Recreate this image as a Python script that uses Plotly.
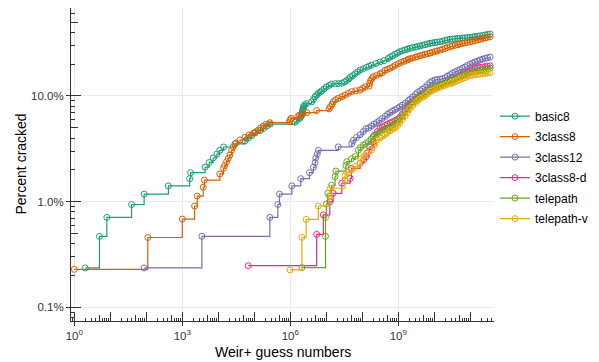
import plotly.graph_objects as go

# ---------------- data ----------------
series_names = ["basic8", "3class8", "3class12", "3class8-d", "telepath", "telepath-v"]
series_colors = ["#1B9E77", "#D95F02", "#7570B3", "#E7298A", "#66A61E", "#E6AB02"]

basic8_guesses = [2, 5, 8, 39, 87, 410, 1600, 1700, 4300, 5600, 7200, 9100, 1.1e4, 1.4e4, 2.9e4,
                  5.5e4, 6.8e4, 8.5e4, 1.05e5, 1.45e5, 1.8e5, 2.2e5, 2.75e5, 1.35e6, 1.5e6, 1.85e6,
                  1.95e6, 2.1e6, 2.1e6, 2.2e6, 2.2e6, 2.25e6, 2.3e6, 2.35e6, 2.55e6, 2.8e6, 3.9e6,
                  4.4e6, 4.9e6, 5.4e6, 6.0e6, 6.8e6, 7.4e6, 8.7e6, 1.0e7, 1.2e7, 1.4e7, 1.8e7, 2.2e7,
                  2.7e7, 3.2e7, 3.7e7, 4.2e7, 4.6e7, 5.4e7, 6.3e7, 7.4e7, 8.7e7, 1.07e8, 1.3e8,
                  1.55e8, 1.8e8, 2.4e8, 3.1e8, 4.0e8, 5.2e8, 5.9e8, 6.9e8, 8.1e8, 9.5e8, 1.1e9,
                  1.3e9, 1.55e9, 1.8e9, 2.1e9, 2.5e9, 3.0e9, 3.4e9, 4.0e9, 4.7e9, 5.5e9, 6.5e9,
                  7.6e9, 8.9e9, 1.05e10, 1.2e10, 1.45e10, 1.7e10, 2.0e10, 2.3e10, 2.75e10, 3.2e10,
                  3.8e10, 4.5e10, 5.1e10, 6.0e10, 7.1e10, 8.3e10, 9.8e10, 1.15e11, 1.35e11, 1.6e11,
                  1.85e11, 2.2e11, 2.6e11, 3.0e11, 3.55e11]
basic8_pct = [0.236, 0.47, 0.71, 0.94, 1.18, 1.41, 1.65, 1.88, 2.12, 2.35, 2.59, 2.82, 3.06, 3.29,
              3.52, 3.76, 4.0, 4.23, 4.47, 4.7, 4.94, 5.18, 5.41, 5.65, 5.88, 6.12, 6.35, 6.59,
              6.82, 7.06, 7.29, 7.53, 7.76, 8.0, 8.24, 8.47, 8.8, 9.3, 9.85, 10.2, 10.6, 10.9,
              11.2, 11.7, 12.2, 12.6, 13.0, 13.1, 13.1, 13.2, 13.6, 14.0, 14.5, 15.0, 15.6, 16.2,
              16.9, 17.6, 18.1, 18.7, 19.1, 19.6, 20.3, 21.0, 21.6, 22.6, 23.3, 24.0, 24.8, 25.5,
              26.3, 26.8, 27.3, 27.8, 28.3, 28.7, 29.0, 29.4, 29.7, 30.2, 30.6, 31.1, 31.5, 31.8,
              32.1, 32.4, 32.6, 33.1, 33.5, 34.0, 34.4, 34.6, 34.8, 35.0, 35.1, 35.3, 35.5, 35.7,
              35.9, 36.2, 36.5, 36.7, 37.0, 37.4, 37.8, 38.2, 38.6]

class3_8_guesses = [1, 110, 1000, 2200, 2600, 3800, 4100, 1.1e4, 1.4e4, 1.5e4, 1.7e4, 1.9e4,
                    2.1e4, 2.35e4, 2.6e4, 3.1e4, 4.0e4, 5.5e4, 7.1e4, 9.4e4, 1.1e5, 1.3e5, 1.5e5,
                    1.8e5, 2.1e5, 2.7e5, 9.5e5, 1.0e6, 1.05e6, 1.6e6, 1.8e6, 2.2e6, 2.85e6, 5.4e6,
                    1.2e7, 1.3e7, 1.45e7, 1.56e7, 1.8e7, 2.15e7, 2.7e7, 3.3e7, 4.1e7, 5.1e7, 6.6e7,
                    8.7e7, 1.02e8, 1.2e8, 1.55e8, 1.6e8, 1.7e8, 1.85e8, 2.0e8, 2.5e8, 3.1e8, 3.6e8,
                    4.3e8, 5.0e8, 5.9e8, 7.1e8, 8.3e8, 1.0e9, 1.2e9, 1.45e9, 1.7e9, 1.9e9, 2.1e9,
                    2.5e9, 3.0e9, 3.4e9, 4.0e9, 4.7e9, 5.5e9, 6.5e9, 7.6e9, 8.9e9, 1.05e10, 1.2e10,
                    1.45e10, 1.7e10, 2.0e10, 2.3e10, 2.75e10, 3.2e10, 3.8e10, 4.5e10, 5.1e10,
                    6.0e10, 7.1e10, 8.3e10, 9.8e10, 1.15e11, 1.35e11, 1.6e11, 1.85e11, 2.2e11,
                    2.6e11, 3.0e11, 3.55e11]
class3_8_pct = [0.229, 0.458, 0.685, 0.91, 1.13, 1.37, 1.6, 1.83, 2.07, 2.2, 2.39, 2.58, 2.77,
                3.08, 3.31, 3.59, 3.84, 4.07, 4.28, 4.44, 4.6, 4.77, 5.0, 5.2, 5.42, 5.59, 5.71,
                5.95, 6.15, 6.37, 6.6, 6.8, 6.96, 7.28, 7.55, 7.92, 8.35, 8.83, 9.2, 9.5, 9.85,
                10.2, 10.6, 11.0, 11.2, 11.4, 11.8, 12.2, 12.4, 13.2, 14.0, 14.6, 15.2, 15.7,
                16.2, 16.6, 17.5, 17.9, 18.3, 18.9, 19.5, 20.2, 20.8, 21.3, 21.8, 22.2, 22.5,
                22.9, 23.3, 23.6, 24.0, 24.4, 24.8, 25.1, 25.5, 25.9, 26.3, 26.7, 27.2, 27.7,
                28.2, 28.8, 29.3, 29.7, 30.2, 30.6, 31.0, 31.4, 31.8, 32.2, 32.6, 33.0, 33.5,
                33.9, 34.4, 34.9, 35.4, 35.9, 36.4]

class3_12_guesses = [87, 3500, 2.7e5, 4.5e5, 5.0e5, 1.1e6, 1.95e6, 3.4e6, 4.4e6, 4.9e6, 5.1e6,
                     5.6e6, 6.0e6, 2.15e7, 5.1e7, 5.6e7, 6.9e7, 8.7e7, 1.07e8, 1.25e8, 1.5e8,
                     1.8e8, 2.1e8, 2.5e8, 2.95e8, 3.5e8, 4.3e8, 5.0e8, 5.9e8, 6.9e8, 8.1e8, 9.5e8,
                     1.1e9, 1.3e9, 1.55e9, 1.9e9, 2.1e9, 2.5e9, 3.0e9, 3.4e9, 4.0e9, 4.7e9, 5.5e9,
                     6.5e9, 7.6e9, 8.9e9, 1.05e10, 1.2e10, 1.45e10, 1.7e10, 2.0e10, 2.3e10, 2.75e10,
                     3.2e10, 3.8e10, 4.5e10, 5.1e10, 6.0e10, 7.1e10, 8.3e10, 9.8e10, 1.15e11,
                     1.35e11, 1.6e11, 1.85e11, 2.2e11, 2.6e11, 3.0e11, 3.55e11]
class3_12_pct = [0.236, 0.47, 0.71, 0.94, 1.18, 1.41, 1.65, 1.88, 2.12, 2.35, 2.59, 2.83, 3.06,
                 3.3, 3.55, 3.8, 4.05, 4.3, 4.6, 4.9, 5.0, 5.2, 5.4, 5.6, 5.85, 6.1, 6.4, 6.7,
                 6.95, 7.2, 7.4, 7.65, 7.9, 8.2, 8.5, 9.0, 9.3, 9.8, 10.3, 10.8, 11.2, 11.6, 12.1,
                 12.8, 13.4, 13.9, 14.2, 14.3, 14.4, 14.6, 14.9, 15.4, 15.9, 16.5, 17.0, 17.4,
                 17.8, 18.3, 18.8, 19.4, 20.0, 20.5, 21.0, 21.4, 21.9, 22.3, 22.7, 23.0, 23.4]

class3_8d_guesses = [6.8e4, 5.4e6, 8.3e6, 1.25e7, 1.55e7, 2.7e7, 4.6e7, 5.0e7, 8.7e7, 1.1e8,
                     1.3e8, 1.5e8, 1.6e8, 2.0e8, 2.2e8, 2.6e8, 3.1e8, 3.6e8, 4.3e8, 5.0e8, 5.9e8,
                     6.9e8, 8.1e8, 9.5e8, 1.1e9, 1.3e9, 1.55e9, 1.8e9, 2.1e9, 2.5e9, 3.0e9, 3.4e9,
                     4.0e9, 4.7e9, 5.5e9, 6.5e9, 7.6e9, 8.9e9, 1.05e10, 1.2e10, 1.45e10, 1.7e10,
                     2.0e10, 2.3e10, 2.75e10, 3.2e10, 3.8e10, 4.5e10, 5.1e10, 6.0e10, 7.1e10,
                     8.3e10, 9.8e10, 1.15e11, 1.35e11, 1.6e11, 1.85e11, 2.2e11, 2.6e11, 3.0e11,
                     3.55e11]
class3_8d_pct = [0.248, 0.49, 0.75, 1.0, 1.2, 1.5, 1.66, 2.07, 2.31, 2.5, 2.67, 3.0, 3.31, 3.7,
                 4.28, 4.6, 4.94, 5.1, 5.25, 5.4, 5.55, 5.7, 5.85, 6.0, 6.3, 6.8, 7.3, 7.8, 8.3,
                 8.8, 9.2, 9.5, 9.8, 10.1, 10.4, 10.9, 11.4, 11.7, 12.0, 12.3, 12.6, 12.9, 13.2,
                 13.5, 13.8, 14.2, 14.6, 15.0, 15.4, 15.8, 16.3, 16.8, 17.3, 17.7, 18.1, 18.4,
                 18.6, 18.8, 19.0, 19.1, 19.3]

telepath_guesses = [2.1e6, 9.5e6, 9.5e6, 1.0e7, 1.1e7, 1.4e7, 1.75e7, 1.85e7, 3.5e7, 3.7e7,
                    5.0e7, 6.3e7, 7.8e7, 8.9e7, 1.07e8, 1.25e8, 1.5e8, 1.75e8, 2.0e8, 2.5e8,
                    3.1e8, 3.6e8, 4.3e8, 5.0e8, 5.9e8, 6.9e8, 8.1e8, 9.5e8, 1.1e9, 1.3e9, 1.55e9,
                    1.8e9, 2.1e9, 2.5e9, 3.0e9, 3.4e9, 4.0e9, 4.7e9, 5.5e9, 6.5e9, 7.6e9, 8.9e9,
                    1.05e10, 1.2e10, 1.45e10, 1.7e10, 2.0e10, 2.3e10, 2.75e10, 3.2e10, 3.8e10,
                    4.5e10, 5.1e10, 6.0e10, 7.1e10, 8.3e10, 9.8e10, 1.15e11, 1.35e11, 1.6e11,
                    1.85e11, 2.2e11, 2.6e11, 3.0e11, 3.55e11]
telepath_pct = [0.238, 0.47, 0.71, 0.95, 1.2, 1.43, 1.73, 1.95, 2.2, 2.39, 2.55, 2.67, 3.08,
                3.25, 3.44, 3.55, 3.7, 3.9, 4.12, 4.35, 4.6, 4.75, 4.85, 4.95, 5.1, 5.3, 5.5,
                5.8, 6.1, 6.6, 7.1, 7.6, 8.2, 8.7, 9.2, 9.6, 9.9, 10.2, 10.5, 11.0, 11.5, 11.8,
                12.1, 12.4, 12.7, 13.0, 13.2, 13.5, 13.8, 14.1, 14.5, 14.9, 15.3, 15.6, 15.9,
                16.3, 16.6, 16.9, 17.1, 17.4, 17.6, 17.8, 18.0, 18.2, 18.4]

telepath_v_guesses = [9.8e5, 2.1e6, 2.75e6, 6.0e6, 1.2e7, 1.3e7, 3.3e7, 3.3e7, 3.7e7, 5.0e7,
                      6.3e7, 8.7e7, 9.5e7, 1.1e8, 1.3e8, 1.8e8, 2.2e8, 2.5e8, 3.1e8, 3.6e8,
                      4.3e8, 5.0e8, 5.9e8, 6.9e8, 8.1e8, 9.5e8, 1.1e9, 1.3e9, 1.55e9, 1.8e9,
                      2.1e9, 2.5e9, 3.0e9, 3.4e9, 4.0e9, 4.7e9, 5.5e9, 6.5e9, 7.6e9, 8.9e9,
                      1.05e10, 1.2e10, 1.45e10, 1.7e10, 2.0e10, 2.3e10, 2.75e10, 3.2e10, 3.8e10,
                      4.5e10, 5.1e10, 6.0e10, 7.1e10, 8.3e10, 9.8e10, 1.15e11, 1.35e11, 1.6e11,
                      1.85e11, 2.2e11, 2.6e11, 3.0e11, 3.55e11]
telepath_v_pct = [0.226, 0.46, 0.68, 0.91, 1.13, 1.34, 1.6, 1.75, 1.9, 2.0, 2.15, 2.31, 2.57,
                  2.72, 2.87, 3.08, 3.44, 3.84, 4.0, 4.15, 4.3, 4.5, 4.7, 4.85, 5.0, 5.25, 5.6,
                  6.0, 6.5, 7.0, 7.6, 8.1, 8.6, 9.0, 9.4, 9.7, 10.0, 10.5, 11.0, 11.3, 11.6,
                  11.9, 12.1, 12.4, 12.6, 12.9, 13.1, 13.3, 13.6, 14.0, 14.3, 14.6, 14.9, 15.3,
                  15.6, 15.8, 15.9, 16.1, 16.2, 16.3, 16.4, 16.5, 16.6]

x_tick_vals = [1, 1e3, 1e6, 1e9]
x_tick_text = ["10<sup>0</sup>", "10<sup>3</sup>", "10<sup>6</sup>", "10<sup>9</sup>"]
y_tick_vals = [0.1, 1, 10]
y_tick_text = ["0.1%", "1.0%", "10.0%"]
x_title = "Weir+ guess numbers"
y_title = "Percent cracked"

series_x = [basic8_guesses, class3_8_guesses, class3_12_guesses, class3_8d_guesses,
            telepath_guesses, telepath_v_guesses]
series_y = [basic8_pct, class3_8_pct, class3_12_pct, class3_8d_pct, telepath_pct, telepath_v_pct]

# ---------------- figure ----------------
FONT = "Liberation Sans, Arial, Helvetica, sans-serif"
AX = "#333333"
fig = go.Figure()
for name, col, xs, ys in zip(series_names, series_colors, series_x, series_y):
    n = min(len(xs), len(ys))
    fig.add_trace(go.Scatter(
        x=xs[:n], y=ys[:n], name=name, legendgroup=name,
        mode="lines+markers", line=dict(shape="hv", color=col, width=1.2),
        marker=dict(symbol="circle-open", size=6, color=col, line=dict(width=1, color=col)),
    ))

XR = [-0.092, 11.658]
YR = [-1.129, 1.8326]
decades_x = range(-1, 13)
decades_y = range(-2, 3)
small_x = [d * 10.0 ** k for k in decades_x for d in (2, 3, 4, 6, 7, 8, 9)]
mid_x = [5 * 10.0 ** k for k in decades_x]
big_x = [10.0 ** k for k in decades_x]
small_y = [d * 10.0 ** k for k in decades_y for d in (2, 3, 4, 6, 7, 8, 9)]
mid_y = [5 * 10.0 ** k for k in decades_y]
big_y = [10.0 ** k for k in decades_y]

tickfont = dict(family=FONT, size=11.5, color="#333333")
# page body has an 8px default margin, so the figure is 8px smaller and offset
L, R, T, B = 63, 105, 0, 41
W, H = 591, 354

fig.update_layout(
    width=W, height=H,
    margin=dict(l=L, r=R, t=T, b=B, autoexpand=False),
    paper_bgcolor="white", plot_bgcolor="white",
    font=dict(family=FONT, size=12, color="black"),
    showlegend=True,
    legend=dict(x=1.0024, xanchor="left", y=0.49, yanchor="middle",
                font=dict(family=FONT, size=12, color="black"),
                tracegroupgap=1.5, bgcolor="rgba(0,0,0,0)"),
    xaxis=dict(type="log", range=XR, showline=True, linecolor=AX, linewidth=1,
               ticks="outside", ticklen=4, tickcolor=AX, tickwidth=1,
               tickmode="array", tickvals=x_tick_vals, ticktext=x_tick_text,
               tickfont=tickfont, showgrid=True, gridcolor="#EBEBEB", gridwidth=1,
               zeroline=False, automargin=False,
               minor=dict(tickmode="array", tickvals=small_x, ticks="inside", ticklen=3,
                          tickcolor=AX, tickwidth=1, showgrid=False)),
    xaxis2=dict(type="log", range=XR, overlaying="x", anchor="y", side="bottom",
                showline=False, showgrid=False, zeroline=False, showticklabels=False,
                ticks="inside", ticklen=6, tickcolor=AX, tickwidth=1, automargin=False,
                tickmode="array", tickvals=mid_x),
    xaxis3=dict(type="log", range=XR, overlaying="x", anchor="y", side="bottom",
                showline=False, showgrid=False, zeroline=False, showticklabels=False,
                ticks="inside", ticklen=9, tickcolor=AX, tickwidth=1, automargin=False,
                tickmode="array", tickvals=big_x),
    yaxis=dict(type="log", range=YR, showline=True, linecolor=AX, linewidth=1,
               ticks="outside", ticklen=4, tickcolor=AX, tickwidth=1,
               tickmode="array", tickvals=y_tick_vals, ticktext=y_tick_text,
               tickfont=tickfont, showgrid=True, gridcolor="#EBEBEB", gridwidth=1,
               zeroline=False, automargin=False,
               minor=dict(tickmode="array", tickvals=small_y, ticks="inside", ticklen=3.5,
                          tickcolor=AX, tickwidth=1, showgrid=False)),
    yaxis2=dict(type="log", range=YR, overlaying="y", anchor="x", side="left",
                showline=False, showgrid=False, zeroline=False, showticklabels=False,
                ticks="inside", ticklen=6.5, tickcolor=AX, tickwidth=1, automargin=False,
                tickmode="array", tickvals=mid_y),
    yaxis3=dict(type="log", range=YR, overlaying="y", anchor="x", side="left",
                showline=False, showgrid=False, zeroline=False, showticklabels=False,
                ticks="inside", ticklen=10, tickcolor=AX, tickwidth=1, automargin=False,
                tickmode="array", tickvals=big_y),
    annotations=[
        dict(text=x_title, xref="paper", yref="paper", x=0.5, y=0, yshift=-31,
             xanchor="center", yanchor="middle", showarrow=False,
             font=dict(family=FONT, size=14, color="black")),
        dict(text=y_title, xref="paper", yref="paper", x=0, y=0.5, xshift=-51,
             xanchor="center", yanchor="middle", textangle=-90, showarrow=False,
             font=dict(family=FONT, size=14, color="black")),
    ],
)

# invisible helper traces so the overlay tick axes are drawn
for xa, ya in (("x2", "y2"), ("x3", "y3")):
    fig.add_trace(go.Scatter(x=[1], y=[1], xaxis=xa, yaxis=ya, mode="markers",
                             marker=dict(opacity=0), showlegend=False, hoverinfo="skip"))

fig.write_html("out.html")
